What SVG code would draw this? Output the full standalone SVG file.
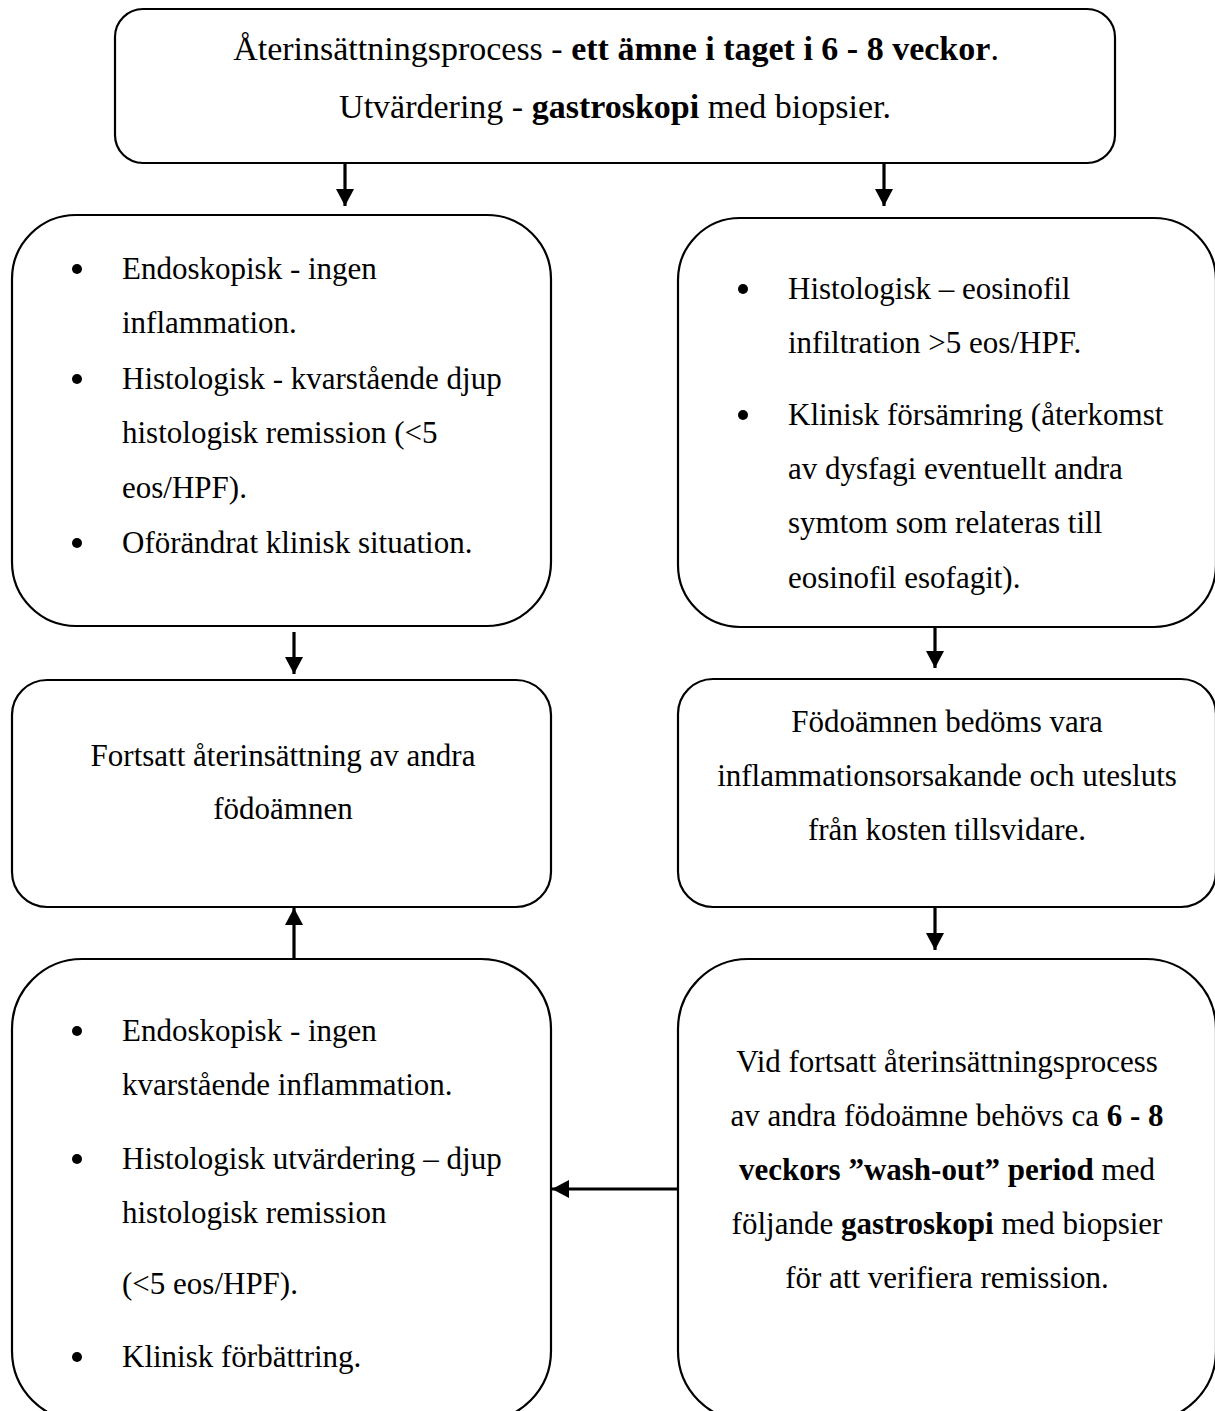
<svg xmlns="http://www.w3.org/2000/svg" width="1215" height="1411" viewBox="0 0 1215 1411">
<style>
.box{fill:#fff;stroke:#000;stroke-width:2.2}
.t{font-family:"Liberation Serif","Times New Roman",serif;font-size:31px;fill:#000}
.big{font-size:34px}
.c{text-anchor:middle}
.b{font-weight:bold}
.con{stroke:#000;stroke-width:3.2;fill:none}
</style>
<defs>
<marker id="ah" markerUnits="userSpaceOnUse" markerWidth="18" markerHeight="18" viewBox="0 0 18 18" refX="17" refY="9" orient="auto">
<path d="M0,0 L17,9 L0,18 z" fill="#000"/>
</marker>
</defs>
<rect width="1215" height="1411" fill="#fff"/>
<g id="connectors">
<line class="con" x1="345" y1="164" x2="345" y2="206" marker-end="url(#ah)"/>
<line class="con" x1="884" y1="164" x2="884" y2="206" marker-end="url(#ah)"/>
<line class="con" x1="294" y1="632" x2="294" y2="674" marker-end="url(#ah)"/>
<line class="con" x1="935" y1="627" x2="935" y2="668" marker-end="url(#ah)"/>
<line class="con" x1="935" y1="908" x2="935" y2="950" marker-end="url(#ah)"/>
<line class="con" x1="294" y1="958" x2="294" y2="908" marker-end="url(#ah)"/>
<line class="con" x1="678" y1="1189" x2="552" y2="1189" marker-end="url(#ah)"/>
</g>
<g id="n1">
<rect class="box" x="115" y="9" width="1000" height="154" rx="28"/>
<text class="t big c" x="616" y="60">Återinsättningsprocess - <tspan class="b">ett ämne i taget i 6 - 8 veckor</tspan>.</text>
<text class="t big c" x="615" y="118">Utvärdering - <tspan class="b">gastroskopi</tspan> med biopsier.</text>
</g>
<g id="n2">
<rect class="box" x="12" y="215" width="539" height="411" rx="64"/>
<circle cx="77" cy="269" r="5"/>
<text class="t" x="122" y="279">Endoskopisk - ingen</text>
<text class="t" x="122" y="333">inflammation.</text>
<circle cx="77" cy="379" r="5"/>
<text class="t" x="122" y="389">Histologisk - kvarstående djup</text>
<text class="t" x="122" y="443">histologisk remission (&lt;5</text>
<text class="t" x="122" y="498">eos/HPF).</text>
<circle cx="77" cy="543" r="5"/>
<text class="t" x="122" y="553">Oförändrat klinisk situation.</text>
</g>
<g id="n3">
<rect class="box" x="678" y="218" width="538" height="409" rx="62"/>
<circle cx="743" cy="289" r="5"/>
<text class="t" x="788" y="299">Histologisk – eosinofil</text>
<text class="t" x="788" y="353">infiltration &gt;5 eos/HPF.</text>
<circle cx="743" cy="415" r="5"/>
<text class="t" x="788" y="425">Klinisk försämring (återkomst</text>
<text class="t" x="788" y="479">av dysfagi eventuellt andra</text>
<text class="t" x="788" y="533">symtom som relateras till</text>
<text class="t" x="788" y="588">eosinofil esofagit).</text>
</g>
<g id="n4">
<rect class="box" x="12" y="680" width="539" height="227" rx="35"/>
<text class="t c" x="283" y="766">Fortsatt återinsättning av andra</text>
<text class="t c" x="283" y="819">födoämnen</text>
</g>
<g id="n5">
<rect class="box" x="678" y="679" width="538" height="228" rx="35"/>
<text class="t c" x="947" y="732">Födoämnen bedöms vara</text>
<text class="t c" x="947" y="786">inflammationsorsakande och utesluts</text>
<text class="t c" x="947" y="840">från kosten tillsvidare.</text>
</g>
<g id="n6">
<rect class="box" x="12" y="959" width="539" height="462" rx="70"/>
<circle cx="77" cy="1031" r="5"/>
<text class="t" x="122" y="1041">Endoskopisk - ingen</text>
<text class="t" x="122" y="1095">kvarstående inflammation.</text>
<circle cx="77" cy="1159" r="5"/>
<text class="t" x="122" y="1169">Histologisk utvärdering – djup</text>
<text class="t" x="122" y="1223">histologisk remission</text>
<text class="t" x="122" y="1294">(&lt;5 eos/HPF).</text>
<circle cx="77" cy="1357" r="5"/>
<text class="t" x="122" y="1367">Klinisk förbättring.</text>
</g>
<g id="n7">
<rect class="box" x="678" y="959" width="538" height="462" rx="70"/>
<text class="t c" x="947" y="1072">Vid fortsatt återinsättningsprocess</text>
<text class="t c" x="947" y="1126">av andra födoämne behövs ca <tspan class="b">6 - 8</tspan></text>
<text class="t c" x="947" y="1180"><tspan class="b">veckors ”wash-out” period</tspan> med</text>
<text class="t c" x="947" y="1234">följande <tspan class="b">gastroskopi</tspan> med biopsier</text>
<text class="t c" x="947" y="1288">för att verifiera remission.</text>
</g>
</svg>
